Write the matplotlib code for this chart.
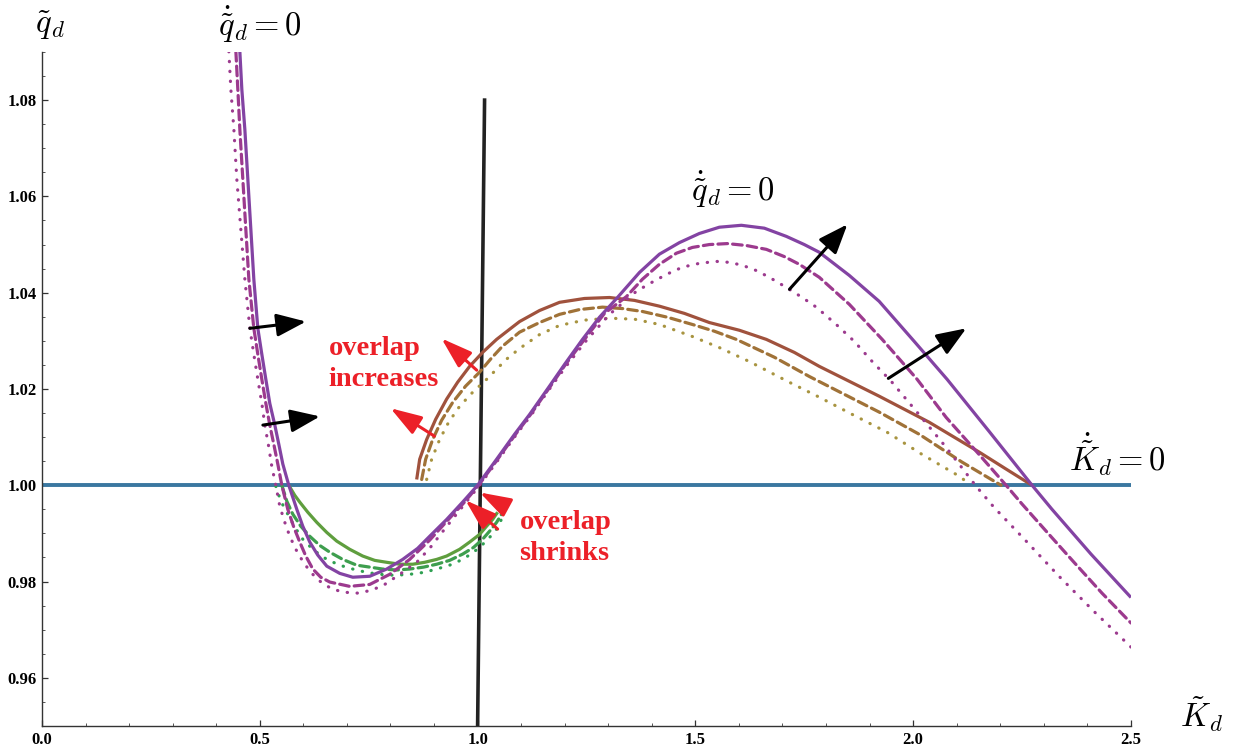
import matplotlib
matplotlib.use("Agg")
import matplotlib.pyplot as plt
from matplotlib.ticker import MultipleLocator, FormatStrFormatter

plt.rcParams["mathtext.fontset"] = "cm"

# ---- data (K_d on x, q_d on y) ----
# qdot = 0 nullcline for three parameter values (solid / dashed / dotted)
p1_x = [0.4541, 0.4587, 0.4656, 0.4725, 0.4794, 0.4862, 0.4954, 0.5046, 0.5138, 0.5229, 0.5344, 0.5436,
        0.5528, 0.5665, 0.5849, 0.5986, 0.6147, 0.6330, 0.6537, 0.6835, 0.7133, 0.7523, 0.7913, 0.8280,
        0.8624, 0.8899, 0.9289, 0.9656, 1.0000, 1.0436, 1.0849, 1.1193, 1.1651, 1.1996, 1.2408, 1.2798,
        1.3211, 1.3716, 1.4174, 1.4633, 1.5092, 1.5550, 1.6055, 1.6583, 1.7087, 1.7500, 1.7844, 1.8532,
        1.9220, 2.0023, 2.0780, 2.1743, 2.2730, 2.3188, 2.4083, 2.5000]
p1_y = [1.0901, 1.0822, 1.0739, 1.0635, 1.0531, 1.0428, 1.0326, 1.0272, 1.0220, 1.0170, 1.0125, 1.0085,
        1.0044, 1.0000, 0.9950, 0.9915, 0.9882, 0.9855, 0.9832, 0.9817, 0.9809, 0.9811, 0.9826, 0.9846,
        0.9869, 0.9894, 0.9929, 0.9965, 1.0000, 1.0054, 1.0106, 1.0147, 1.0206, 1.0251, 1.0303, 1.0349,
        1.0390, 1.0442, 1.0480, 1.0504, 1.0523, 1.0536, 1.0540, 1.0534, 1.0517, 1.0500, 1.0484, 1.0436,
        1.0382, 1.0299, 1.0220, 1.0112, 1.0000, 0.9950, 0.9857, 0.9767]

p2_x = [0.4450, 0.4495, 0.4541, 0.4610, 0.4679, 0.4748, 0.4862, 0.4954, 0.5046, 0.5138, 0.5229, 0.5321,
        0.5413, 0.5505, 0.5642, 0.5780, 0.5917, 0.6055, 0.6216, 0.6399, 0.6606, 0.7064, 0.7523, 0.7982,
        0.8440, 0.8899, 0.9289, 0.9679, 1.0023, 1.0459, 1.0872, 1.1216, 1.1674, 1.2018, 1.2454, 1.2913,
        1.3418, 1.3784, 1.4174, 1.4564, 1.4931, 1.5321, 1.5734, 1.6170, 1.6629, 1.7041, 1.7385, 1.7844,
        1.8532, 1.9289, 2.0092, 2.0757, 2.1514, 2.2133, 2.2500, 2.3119, 2.3693, 2.4335, 2.5000]
p2_y = [1.0901, 1.0822, 1.0739, 1.0635, 1.0531, 1.0428, 1.0326, 1.0272, 1.0220, 1.0170, 1.0125, 1.0085,
        1.0044, 1.0000, 0.9950, 0.9913, 0.9882, 0.9853, 0.9826, 0.9809, 0.9799, 0.9790, 0.9794, 0.9815,
        0.9846, 0.9886, 0.9925, 0.9963, 1.0000, 1.0054, 1.0106, 1.0147, 1.0206, 1.0251, 1.0303, 1.0357,
        1.0392, 1.0428, 1.0459, 1.0482, 1.0494, 1.0500, 1.0502, 1.0498, 1.0490, 1.0475, 1.0459, 1.0432,
        1.0376, 1.0303, 1.0220, 1.0141, 1.0064, 1.0000, 0.9961, 0.9898, 0.9840, 0.9776, 0.9714]

p3_x = [0.4289, 0.4335, 0.4404, 0.4472, 0.4564, 0.4656, 0.4771, 0.4862, 0.4954, 0.5046, 0.5115, 0.5206,
        0.5275, 0.5367, 0.5459, 0.5573, 0.5688, 0.5826, 0.5986, 0.6170, 0.6376, 0.6628, 0.6904, 0.7248,
        0.7569, 0.7867, 0.8211, 0.8601, 0.8899, 0.9312, 0.9702, 1.0046, 1.0482, 1.0894, 1.1239, 1.1697,
        1.2064, 1.2500, 1.3028, 1.3647, 1.3991, 1.4335, 1.4702, 1.5092, 1.5482, 1.5780, 1.6078, 1.6399,
        1.6697, 1.7087, 1.7454, 1.7775, 1.8234, 1.8647, 1.9060, 1.9495, 2.0069, 2.0665, 2.1055, 2.1445,
        2.1858, 2.2615, 2.3349, 2.4151, 2.5000]
p3_y = [1.0901, 1.0822, 1.0739, 1.0635, 1.0531, 1.0428, 1.0326, 1.0272, 1.0220, 1.0170, 1.0125, 1.0079,
        1.0039, 1.0000, 0.9956, 0.9923, 0.9894, 0.9867, 0.9842, 0.9819, 0.9801, 0.9786, 0.9778, 0.9776,
        0.9782, 0.9794, 0.9815, 0.9840, 0.9869, 0.9917, 0.9961, 1.0000, 1.0054, 1.0106, 1.0147, 1.0206,
        1.0251, 1.0301, 1.0355, 1.0403, 1.0421, 1.0438, 1.0453, 1.0461, 1.0465, 1.0463, 1.0457, 1.0446,
        1.0432, 1.0411, 1.0390, 1.0370, 1.0334, 1.0299, 1.0257, 1.0216, 1.0154, 1.0089, 1.0044, 0.9998,
        0.9954, 0.9882, 0.9811, 0.9738, 0.9664]

# overlap region below q = 1 (green)
g1_x = [0.5665, 0.5803, 0.5917, 0.6101, 0.6307, 0.6537, 0.6766, 0.7064, 0.7362, 0.7638, 0.7913,
        0.8211, 0.8509, 0.8784, 0.9060, 0.9289, 0.9587, 0.9817, 1.0046, 1.0206, 1.0344, 1.0459]
g1_y = [1.0000, 0.9979, 0.9965, 0.9944, 0.9923, 0.9902, 0.9884, 0.9867, 0.9853, 0.9844, 0.9840,
        0.9836, 0.9836, 0.9840, 0.9846, 0.9853, 0.9867, 0.9882, 0.9898, 0.9915, 0.9929, 0.9944]
g2_x = [0.5505, 0.5619, 0.5757, 0.5940, 0.6147, 0.6376, 0.6606, 0.6904, 0.7225, 0.7523, 0.7821,
        0.8142, 0.8440, 0.8761, 0.9060, 0.9358, 0.9656, 0.9908, 1.0115, 1.0298, 1.0436, 1.0550]
g2_y = [1.0000, 0.9967, 0.9940, 0.9915, 0.9894, 0.9875, 0.9861, 0.9846, 0.9834, 0.9830, 0.9826,
        0.9824, 0.9826, 0.9830, 0.9836, 0.9844, 0.9857, 0.9871, 0.9888, 0.9907, 0.9923, 0.9940]
g3_x = [0.5367, 0.5482, 0.5642, 0.5803, 0.5986, 0.6239, 0.6537, 0.6835, 0.7133, 0.7454, 0.7752,
        0.8096, 0.8440, 0.8761, 0.9060, 0.9358, 0.9656, 0.9908, 1.0115, 1.0298, 1.0436, 1.0573]
g3_y = [0.9998, 0.9967, 0.9940, 0.9913, 0.9888, 0.9865, 0.9846, 0.9834, 0.9826, 0.9819, 0.9815,
        0.9813, 0.9815, 0.9819, 0.9826, 0.9834, 0.9846, 0.9861, 0.9877, 0.9894, 0.9909, 0.9934]

# overlap region above q = 1 (brown)
b1_x = [0.8601, 0.8670, 0.8830, 0.9037, 0.9289, 0.9541, 0.9817, 1.0115, 1.0436, 1.0734, 1.0963,
        1.1422, 1.1881, 1.2454, 1.3028, 1.3601, 1.4174, 1.4748, 1.5321, 1.6009, 1.6629, 1.7271,
        1.7844, 1.8532, 1.9220, 1.9794, 2.0367, 2.0940, 2.1514, 2.2110, 2.2730]
b1_y = [1.0012, 1.0054, 1.0095, 1.0137, 1.0179, 1.0214, 1.0247, 1.0276, 1.0303, 1.0324, 1.0340,
        1.0363, 1.0380, 1.0388, 1.0390, 1.0384, 1.0372, 1.0357, 1.0338, 1.0322, 1.0303, 1.0276,
        1.0247, 1.0216, 1.0185, 1.0158, 1.0131, 1.0100, 1.0069, 1.0035, 1.0000]
b2_x = [0.8716, 0.8807, 0.8968, 0.9174, 0.9427, 0.9725, 1.0046, 1.0298, 1.0573, 1.0963, 1.1422,
        1.1881, 1.2339, 1.2867, 1.3326, 1.3784, 1.4358, 1.4931, 1.5436, 1.5940, 1.6812, 1.7615,
        1.8417, 1.9220, 2.0138, 2.1124, 2.2018]
b2_y = [1.0012, 1.0054, 1.0095, 1.0135, 1.0172, 1.0206, 1.0235, 1.0262, 1.0289, 1.0318, 1.0338,
        1.0355, 1.0365, 1.0370, 1.0367, 1.0361, 1.0349, 1.0334, 1.0320, 1.0303, 1.0266, 1.0226,
        1.0189, 1.0152, 1.0106, 1.0048, 1.0000]
b3_x = [0.8830, 0.8945, 0.9128, 0.9335, 0.9587, 0.9885, 1.0206, 1.0665, 1.0963, 1.1422, 1.1881,
        1.2454, 1.3028, 1.3601, 1.4174, 1.4931, 1.5550, 1.6239, 1.7156, 1.7844, 1.8647, 1.9404,
        2.0206, 2.1055, 2.1330]
b3_y = [1.0012, 1.0054, 1.0095, 1.0131, 1.0164, 1.0193, 1.0220, 1.0262, 1.0284, 1.0313, 1.0332,
        1.0343, 1.0347, 1.0345, 1.0334, 1.0309, 1.0286, 1.0257, 1.0214, 1.0183, 1.0145, 1.0110,
        1.0064, 1.0019, 1.0000]

# K-dot = 0 (horizontal) and the near-vertical black locus
kline_x = [0.0, 2.5]
kline_y = [1.0, 1.0]
vline_x = [1.000, 1.016]
vline_y = [0.950, 1.080]

# arrows: (tail, tip)
black_arrows = [((0.477, 1.0326), (0.606, 1.0340)),
                ((0.507, 1.0125), (0.638, 1.0143)),
                ((1.716, 1.0407), (1.849, 1.0542)),
                ((1.943, 1.0222), (2.122, 1.0326))]
red_arrows = [((0.901, 1.0102), (0.800, 1.0160)),
              ((0.998, 1.0239), (0.917, 1.0305)),
              ((1.064, 0.9956), (1.005, 0.9985)),
              ((1.046, 0.9909), (0.972, 0.9969))]

PURPLE = "#8343a3"
MAGENTA = "#9c3a8e"
GREEN = ["#5f9e3e", "#3e9e4e", "#2fa052"]
BROWN = ["#a0523d", "#a07238", "#a89440"]
BLUE = "#3a77a0"
RED = "#ec2028"

DASH = (0, (3.0, 1.6))
DOT = (0, (0.1, 3.0))

fig = plt.figure(figsize=(12.48, 7.51), dpi=100)
ax = fig.add_axes([0.0337, 0.0333, 0.8725, 0.8975])

lw = 2.3
ax.plot(kline_x, kline_y, color=BLUE, lw=2.8, zorder=2)
ax.plot(vline_x, vline_y, color="#222222", lw=2.6, zorder=3)

for xs, ys, c, ls in [(b1_x, b1_y, BROWN[0], "-"), (b2_x, b2_y, BROWN[1], DASH), (b3_x, b3_y, BROWN[2], DOT),
                      (g1_x, g1_y, GREEN[0], "-"), (g2_x, g2_y, GREEN[1], DASH), (g3_x, g3_y, GREEN[2], DOT),
                      (p3_x, p3_y, MAGENTA, DOT), (p2_x, p2_y, MAGENTA, DASH), (p1_x, p1_y, PURPLE, "-")]:
    ax.plot(xs, ys, color=c, lw=lw, ls=ls, dash_capstyle="round", solid_capstyle="butt",
            solid_joinstyle="round", zorder=4)

for (tail, tip) in black_arrows:
    ax.annotate("", xy=tip, xytext=tail,
                arrowprops=dict(arrowstyle="-|>,head_length=1.8,head_width=0.7", color="black",
                                lw=2.2, shrinkA=0, shrinkB=0), zorder=6)
for (tail, tip) in red_arrows:
    ax.annotate("", xy=tip, xytext=tail,
                arrowprops=dict(arrowstyle="-|>,head_length=1.9,head_width=0.62", color=RED,
                                lw=2.2, shrinkA=0, shrinkB=0), zorder=6)

serif_b = dict(family="Liberation Serif", fontweight="bold")
ax.text(0.658, 1.0252, "overlap\nincreases", color=RED, fontsize=20.5, ha="left", va="center",
        multialignment="left", linespacing=1.3, zorder=7, **serif_b)
ax.text(1.096, 0.9890, "overlap\nshrinks", color=RED, fontsize=20.5, ha="left", va="center",
        multialignment="left", linespacing=1.3, zorder=7, **serif_b)

ax.text(0.018, 1.0955, r"$\tilde{q}_d$", fontsize=23.5, ha="center", va="center", clip_on=False)
ax.text(0.500, 1.0957, r"$\dot{\tilde{q}}_d = 0$", fontsize=23.5, ha="center", va="center", clip_on=False)
ax.text(1.585, 1.0614, r"$\dot{\tilde{q}}_d = 0$", fontsize=23.5, ha="center", va="center")
ax.text(2.470, 1.0064, r"$\dot{\tilde{K}}_d = 0$", fontsize=23.5, ha="center", va="center", clip_on=False)
ax.text(2.661, 0.9525, r"$\tilde{K}_d$", fontsize=23.5, ha="center", va="center", clip_on=False)

ax.set_xlim(0, 2.5)
ax.set_ylim(0.95, 1.09)
ax.xaxis.set_major_locator(MultipleLocator(0.5))
ax.xaxis.set_minor_locator(MultipleLocator(0.1))
ax.yaxis.set_minor_locator(MultipleLocator(0.005))
ax.xaxis.set_major_formatter(FormatStrFormatter("%.1f"))
ax.yaxis.set_major_formatter(FormatStrFormatter("%.2f"))
ax.set_yticks([0.96, 0.98, 1.00, 1.02, 1.04, 1.06, 1.08])
for s in ["top", "right"]:
    ax.spines[s].set_visible(False)
for s in ["left", "bottom"]:
    ax.spines[s].set_color("#333333")
    ax.spines[s].set_linewidth(1.0)
ax.tick_params(which="major", direction="in", length=4, width=0.9, color="#333333", pad=4)
ax.tick_params(which="minor", direction="in", length=2.5, width=0.7, color="#555555")
for lab in ax.get_xticklabels() + ax.get_yticklabels():
    lab.set_family("Liberation Serif")
    lab.set_fontweight("bold")
    lab.set_fontsize(12)

fig.savefig("out.png", dpi=100)
